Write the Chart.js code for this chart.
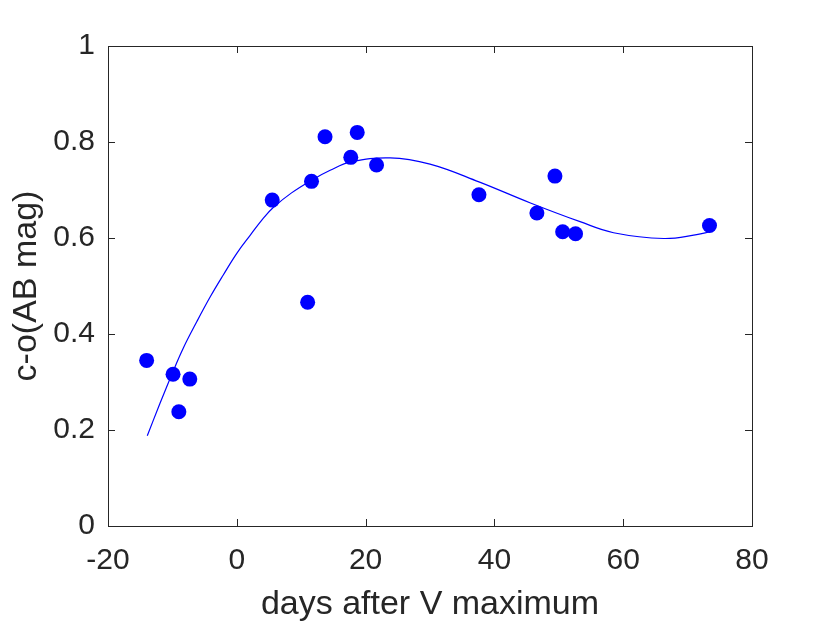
<!DOCTYPE html>
<html>
<head>
<meta charset="utf-8">
<script src="https://cdn.jsdelivr.net/npm/chart.js@4/dist/chart.umd.min.js"></script>
<style>
  html, body { margin: 0; padding: 0; background: #fff; }
  canvas { display: block; }
</style>
</head>
<body>
<canvas id="colorChart" width="830" height="623"></canvas>
<script>
// observed colour vs. days after V maximum
const obsDays  = [-14.0, -9.9, -9.0, -7.3, 5.5, 11.0, 11.6, 13.7, 17.7, 18.7, 21.7, 37.6, 46.6, 49.4, 50.6, 52.6, 73.4];
const obsColor = [0.345, 0.316, 0.238, 0.306, 0.679, 0.466, 0.718, 0.811, 0.768, 0.820, 0.752, 0.690, 0.652, 0.729, 0.613, 0.609, 0.626];

// fitted curve
const fitDays  = [-13.9, -12.0, -9.9, -8.3, -6.2, -4.1, -2.1, 0.0, 2.1, 4.1, 5.7, 8.5, 11.7, 14.5, 17.6, 23.8, 30.0, 37.6, 45.6, 53.3, 58.5, 66.3, 71.4, 73.5];
const fitColor = [0.188, 0.253, 0.322, 0.371, 0.426, 0.478, 0.523, 0.568, 0.606, 0.641, 0.664, 0.694, 0.721, 0.741, 0.758, 0.767, 0.754, 0.717, 0.673, 0.634, 0.611, 0.599, 0.607, 0.613];

// axis ticks
const xTicks = [-20, 0, 20, 40, 60, 80];
const xTickLabels = ['-20', '0', '20', '40', '60', '80'];
const yTicks = [0, 0.2, 0.4, 0.6, 0.8, 1];
const yTickLabels = ['0', '0.2', '0.4', '0.6', '0.8', '1'];

const axisColor = '#262626';
const fontFamily = "'Liberation Sans', Arial, Helvetica, sans-serif";

const toXY = (xs, ys) => xs.map((v, i) => ({ x: v, y: ys[i] }));

// box round the plot with inward ticks on all four sides (matlab style)
const boxPlugin = {
  id: 'box',
  afterDatasetsDraw(chart) {
    const { ctx, chartArea: a, scales: { x, y } } = chart;
    const len = 7;
    ctx.save();
    ctx.strokeStyle = axisColor;
    ctx.lineWidth = 1;
    ctx.beginPath();
    x.ticks.forEach(t => {
      const px = Math.round(x.getPixelForValue(t.value)) + 0.5;
      ctx.moveTo(px, a.bottom); ctx.lineTo(px, a.bottom - len);
      ctx.moveTo(px, a.top); ctx.lineTo(px, a.top + len);
    });
    y.ticks.forEach(t => {
      const py = Math.round(y.getPixelForValue(t.value)) + 0.5;
      ctx.moveTo(a.left, py); ctx.lineTo(a.left + len, py);
      ctx.moveTo(a.right, py); ctx.lineTo(a.right - len, py);
    });
    ctx.stroke();
    ctx.strokeRect(Math.round(a.left) + 0.5, Math.round(a.top) + 0.5,
                   Math.round(a.right - a.left), Math.round(a.bottom - a.top));
    ctx.restore();
  }
};

new Chart(document.getElementById('colorChart'), {
  type: 'scatter',
  data: {
    datasets: [
      {
        label: 'data',
        data: toXY(obsDays, obsColor),
        backgroundColor: '#0000ff',
        borderWidth: 0,
        pointRadius: 7.5,
        pointHoverRadius: 7.5
      },
      {
        label: 'fit',
        type: 'line',
        data: toXY(fitDays, fitColor),
        borderColor: '#0000ff',
        borderWidth: 1.2,
        pointRadius: 0,
        fill: false,
        tension: 0.4
      }
    ]
  },
  options: {
    responsive: false,
    animation: false,
    layout: { padding: { top: 46, right: 78, left: 0, bottom: 0 } },
    plugins: {
      legend: { display: false },
      tooltip: { enabled: false }
    },
    scales: {
      x: {
        type: 'linear',
        min: -20,
        max: 80,
        afterBuildTicks: s => { s.ticks = xTicks.map(v => ({ value: v })); },
        afterFit: s => { s.height = 97; },
        grid: { display: false },
        border: { display: false },
        ticks: {
          color: axisColor,
          font: { family: fontFamily, size: 30 },
          padding: 9,
          maxRotation: 0,
          callback: (v, i) => xTickLabels[i]
        },
        title: {
          display: true,
          text: 'days after V maximum',
          color: axisColor,
          font: { family: fontFamily, size: 34, lineHeight: 1.0 },
          padding: { top: 0, bottom: 1 }
        }
      },
      y: {
        type: 'linear',
        min: 0,
        max: 1,
        afterBuildTicks: s => { s.ticks = yTicks.map(v => ({ value: v })); },
        afterFit: s => { s.width = 108; },
        grid: { display: false },
        border: { display: false },
        ticks: {
          color: axisColor,
          font: { family: fontFamily, size: 30 },
          padding: 5,
          callback: (v, i) => yTickLabels[i]
        },
        title: {
          display: true,
          text: 'c-o(AB mag)',
          color: axisColor,
          font: { family: fontFamily, size: 34, lineHeight: 1.0 },
          padding: { top: 10, bottom: 0 }
        }
      }
    }
  },
  plugins: [boxPlugin]
});
</script>
</body>
</html>
